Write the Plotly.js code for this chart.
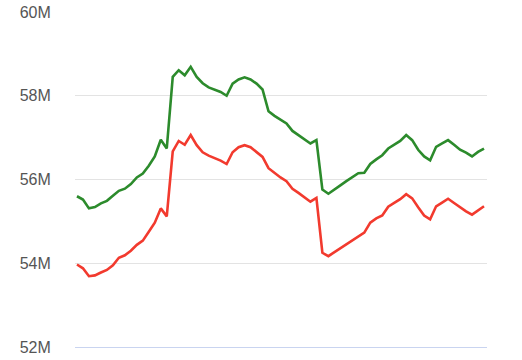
<!DOCTYPE html>
<html>
<head>
<meta charset="utf-8">
<script src="https://cdn.plot.ly/plotly-3.0.1.min.js"></script>
<style>html,body{margin:0;padding:0;background:#fff;}#chart{width:522px;height:360px;}</style>
</head>
<body>
<div id="chart"></div>
<script>
// Period index (no x labels shown in the reference)
const periods = Array.from({length: 69}, (_, i) => i);

// Green series (millions)
const greenSeries = [55.60,55.52,55.31,55.34,55.43,55.49,55.61,55.73,55.78,55.89,
  56.05,56.14,56.33,56.55,56.95,56.74,58.45,58.61,58.49,58.69,
  58.45,58.30,58.20,58.15,58.09,58.00,58.29,58.39,58.44,58.39,
  58.29,58.15,57.63,57.52,57.44,57.34,57.16,57.06,56.95,56.86,
  56.94,55.76,55.66,55.77,55.86,55.96,56.05,56.15,56.16,56.37,
  56.48,56.58,56.74,56.82,56.92,57.06,56.94,56.71,56.55,56.46,
  56.78,56.86,56.94,56.83,56.71,56.64,56.55,56.66,56.74];

// Red series (millions)
const redSeries = [53.97,53.88,53.69,53.71,53.78,53.84,53.95,54.13,54.19,54.30,
  54.44,54.54,54.75,54.97,55.31,55.12,56.67,56.92,56.83,57.06,
  56.82,56.65,56.57,56.51,56.45,56.37,56.65,56.77,56.82,56.77,
  56.66,56.54,56.27,56.15,56.05,55.96,55.78,55.68,55.57,55.47,
  55.56,54.25,54.17,54.26,54.36,54.45,54.55,54.64,54.73,54.97,
  55.07,55.14,55.35,55.44,55.53,55.65,55.55,55.34,55.14,55.05,
  55.36,55.45,55.54,55.44,55.33,55.24,55.16,55.26,55.36];

const yTickVals = [52, 54, 56, 58, 60];
const yTickText = ['52M', '54M', '56M', '58M', '60M'];

const traces = [
  {x: periods, y: greenSeries, type: 'scatter', mode: 'lines',
   line: {color: '#2c8b2c', width: 2.6}, hoverinfo: 'skip'},
  {x: periods, y: redSeries, type: 'scatter', mode: 'lines',
   line: {color: '#f23a2e', width: 2.6}, hoverinfo: 'skip'}
];

const layout = {
  width: 522, height: 360,
  margin: {l: 75, r: 35, t: 12, b: 13, pad: 0},
  paper_bgcolor: '#ffffff', plot_bgcolor: '#ffffff',
  showlegend: false,
  xaxis: {range: [-0.33, 68.5], showgrid: false, zeroline: false,
          showticklabels: false, ticks: '', showline: true,
          linecolor: '#c9d4f0', linewidth: 1},
  yaxis: {range: [52, 60], tickvals: yTickVals, ticktext: yTickText,
          showgrid: true, gridcolor: '#e3e3e3', gridwidth: 1,
          zeroline: false, showline: false,
          ticks: 'outside', ticklen: 20, tickcolor: 'rgba(0,0,0,0)',
          tickfont: {family: 'Liberation Sans, Arial, sans-serif', size: 16, color: '#555555'}}
};

Plotly.newPlot('chart', traces, layout, {displayModeBar: false, staticPlot: true});
</script>
</body>
</html>
